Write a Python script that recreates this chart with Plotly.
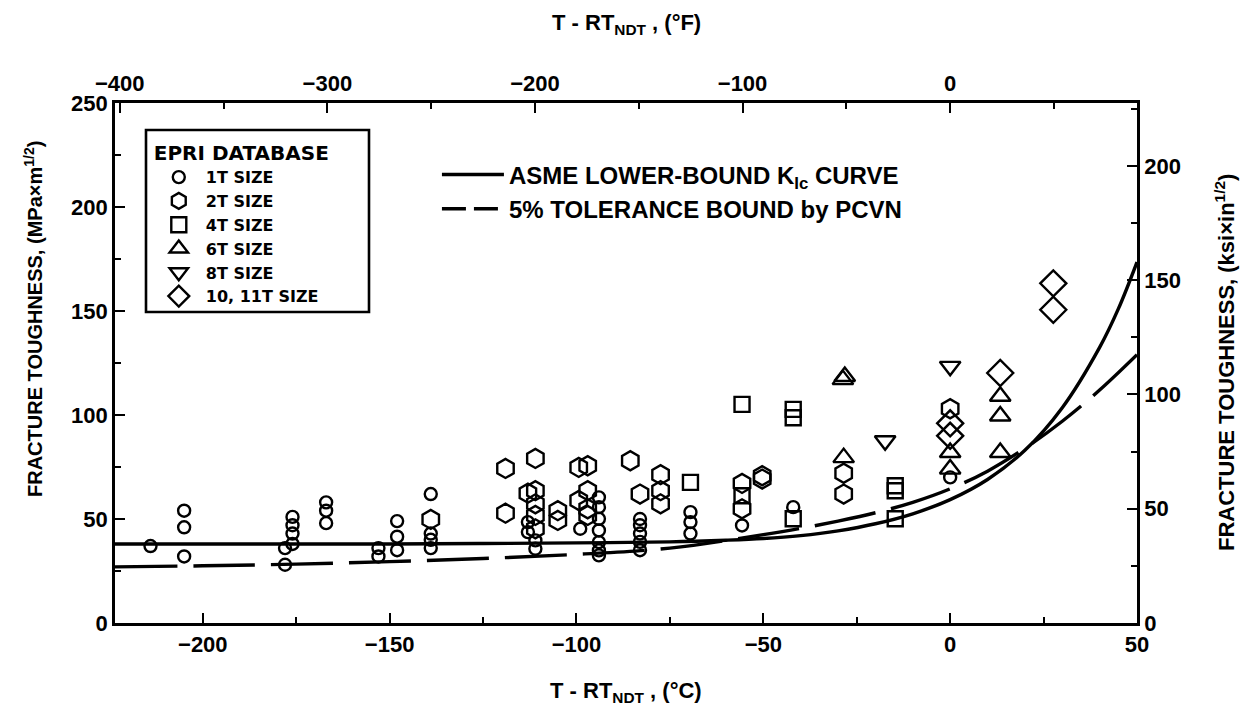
import plotly.graph_objects as go

# ---------------- data ----------------
# 1T SIZE (circles)
t1_x = [-214, -205, -205, -205, -178, -178, -176, -176, -176, -176, -167, -167, -167,
        -153, -153, -148, -148, -148, -139, -139, -139, -139, -113, -113, -111, -111,
        -99, -94, -94, -94, -94, -94, -94, -94, -83, -83, -83, -83, -83,
        -69.5, -69.5, -69.5, -55.7, -42, 0]
t1_y = [37, 54, 46, 32, 36, 28, 51, 47, 43, 38, 58, 54, 48,
        36, 32, 49, 41.5, 35, 62, 43, 40, 36, 48.5, 43.7, 39.7, 35.7,
        45.3, 60.4, 55.7, 50.1, 44.5, 38.9, 34.9, 32.5, 50, 47, 43, 39, 35,
        53.3, 48.5, 43, 46.9, 55.7, 70]
# 2T SIZE (hexagons)
t2_x = [-139, -119, -119, -111, -113, -111, -111, -111, -111, -105, -105, -99.4, -97, -97,
        -99.4, -97, -97, -85.6, -83, -77.5, -77.5, -77.5, -55.7, -55.7, -50.3, -50.3,
        -28.5, -28.5, 0]
t2_y = [49.8, 74.3, 52.8, 79.1, 62.4, 63.6, 57.3, 51.7, 45.3, 54, 49.3, 74.8, 75.6, 63.6,
        58.9, 54.9, 51.7, 78, 62, 71.3, 63.6, 57.3, 67.1, 54.9, 70.8, 69.2,
        72, 62, 103]
# 4T SIZE (squares)
t4_x = [-69.5, -55.7, -55.7, -42, -42, -42, -14.7, -14.7, -14.7]
t4_y = [67.6, 105.1, 61.2, 102.7, 98.7, 50.1, 66, 63.6, 50.1]
# 6T SIZE (triangles up)
t6_x = [-28.7, -28.2, -28.5, 0, 0, 13.4, 13.4, 13.4]
t6_y = [117, 118.5, 79.5, 82, 74, 109, 99.5, 82]
# 8T SIZE (triangles down)
t8_x = [-17.4, 0]
t8_y = [87.6, 123.4]
# 10, 11T SIZE (diamonds)
t10_x = [0, 0, 13.4, 27.6, 27.6]
t10_y = [96, 90, 120.2, 163.3, 150.6]

# ASME lower-bound KIc curve (read)
asme_x = [-223.5, -200, -175, -150, -125, -100, -75, -60, -50, -40, -30, -20, -10, 0, 10, 20, 30, 40, 45, 50]
asme_y = [38, 38, 38, 38, 38.2, 38.5, 39, 39.8, 40.6, 42, 44.3, 47.7, 52.5, 59.3, 69, 83, 103.5, 132.5, 151, 173.5]
# 5% tolerance bound by PCVN (read)
pcvn_x = [-223.5, -200, -175, -150, -125, -100, -75, -50, -40, -30, -20, -10, 0, 10, 20, 30, 40, 50]
pcvn_y = [27, 27.5, 28.3, 29.5, 31, 33, 36, 42.5, 45.5, 49, 53, 58, 64.5, 73, 84, 97, 112, 129]

# axis ticks
x_ticks_c = [-200, -150, -100, -50, 0, 50]
x_ticks_f = [-400, -300, -200, -100, 0]
y_ticks_mpa = [0, 50, 100, 150, 200, 250]
y_ticks_ksi = [0, 50, 100, 150, 200]

# ---------------- figure ----------------
ARIAL = "Liberation Sans, Arial, sans-serif"
DJV = "DejaVu Sans, sans-serif"
LW = 2.6
X0, X1 = -223.5, 50

fig = go.Figure()

def mk(x, y, name, symbol, size):
    fig.add_trace(go.Scatter(
        x=x, y=y, mode="markers", name=name, legend="legend",
        marker=dict(symbol=symbol, size=size, color="black",
                    line=dict(color="black", width=2.4)),
    ))

mk(t1_x, t1_y, "1T SIZE", "circle-open", 12)
mk(t2_x, t2_y, "2T SIZE", "hexagon-open", 19)
mk(t4_x, t4_y, "4T SIZE", "square-open", 15)
mk(t6_x, t6_y, "6T SIZE", "triangle-up-open", 18)
mk(t8_x, t8_y, "8T SIZE", "triangle-down-open", 18)
mk(t10_x, t10_y, "10, 11T SIZE", "diamond-open", 20)

fig.add_trace(go.Scatter(x=asme_x, y=asme_y, mode="lines", line_shape="spline",
                         name="ASME LOWER-BOUND K<sub>Ic</sub> CURVE", legend="legend2",
                         line=dict(color="black", width=3.4)))
fig.add_trace(go.Scatter(x=pcvn_x, y=pcvn_y, mode="lines", line_shape="spline",
                         showlegend=False,
                         line=dict(color="black", width=3.4, dash="62px,16px")))
# legend entry for the dashed bound (short dashes so the sample shows as dashed)
fig.add_trace(go.Scatter(x=[None], y=[None], mode="lines",
                         name="5% TOLERANCE BOUND by PCVN", legend="legend2",
                         line=dict(color="black", width=3.4, dash="24px,8px")))

# dummy trace to activate secondary axes
fig.add_trace(go.Scatter(x=[None], y=[None], xaxis="x2", yaxis="y2",
                         showlegend=False, hoverinfo="skip"))

tickfont = dict(family=ARIAL, size=22, color="black", weight="bold")
axcommon = dict(showline=True, linewidth=LW, linecolor="black", ticks="inside",
                ticklen=10, tickwidth=2.2, tickcolor="black", showgrid=False,
                zeroline=False, tickfont=tickfont)
minor = lambda d: dict(ticks="inside", ticklen=6, tickwidth=2, dtick=d, tick0=0,
                       tickcolor="black")

fig.update_layout(
    width=1251, height=720,
    margin=dict(l=115, r=114, t=103, b=97),
    paper_bgcolor="white", plot_bgcolor="white",
    xaxis=dict(range=[X0, X1], tickvals=x_ticks_c, side="bottom", minor=minor(25),
               **axcommon),
    xaxis2=dict(range=[X0 * 1.8, X1 * 1.8], tickvals=x_ticks_f, side="top",
                overlaying="x", anchor="y", minor=minor(50), **axcommon),
    yaxis=dict(range=[0, 250], tickvals=y_ticks_mpa, side="left", minor=minor(25),
               **axcommon),
    yaxis2=dict(range=[0, 250 / 1.0988], tickvals=y_ticks_ksi, side="right",
                overlaying="y", anchor="x", minor=minor(25), **axcommon),
    legend=dict(x=0.036, y=0.94, xanchor="left", yanchor="top",
                borderwidth=0, bgcolor="rgba(0,0,0,0)",
                title=dict(text="EPRI DATABASE",
                           font=dict(family=DJV, size=20, color="black", weight="bold")),
                font=dict(family=DJV, size=16, color="black", weight="bold"),
                itemwidth=44, tracegroupgap=0),
    legend2=dict(x=0.315, y=0.905, xanchor="left", yanchor="top",
                 bgcolor="rgba(0,0,0,0)", borderwidth=0,
                 font=dict(family=ARIAL, size=24, color="black", weight="bold"),
                 itemwidth=62, tracegroupgap=0),
    showlegend=True,
    shapes=[dict(type="rect", xref="paper", yref="paper",
                 x0=(146 - 115) / 1022, x1=(369 - 115) / 1022,
                 y0=(623 - 312) / 520, y1=(623 - 130) / 520,
                 line=dict(color="black", width=2.6), fillcolor="rgba(0,0,0,0)",
                 layer="above")],
    annotations=[
        dict(text="T - RT<sub>NDT</sub> , (°C)", xref="paper", yref="paper",
             x=0.5, y=(623 - 692) / 520, showarrow=False, xanchor="center", yanchor="middle",
             font=dict(family=ARIAL, size=22, color="black", weight="bold")),
        dict(text="T - RT<sub>NDT</sub> , (°F)", xref="paper", yref="paper",
             x=0.5, y=(623 - 24) / 520, showarrow=False, xanchor="center", yanchor="middle",
             font=dict(family=ARIAL, size=22, color="black", weight="bold")),
        dict(text="FRACTURE TOUGHNESS, (MPa×m<sup>1/2</sup>)", xref="paper", yref="paper",
             x=(33 - 115) / 1022, y=(623 - 319) / 520, textangle=-90, showarrow=False,
             xanchor="center", yanchor="middle",
             font=dict(family=ARIAL, size=20, color="black", weight="bold")),
        dict(text="FRACTURE TOUGHNESS, (ksi×in<sup>1/2</sup>)", xref="paper", yref="paper",
             x=(1225 - 115) / 1022, y=(623 - 363) / 520, textangle=-90, showarrow=False,
             xanchor="center", yanchor="middle",
             font=dict(family=ARIAL, size=22, color="black", weight="bold")),
    ],
)

fig.write_html("out.html")
